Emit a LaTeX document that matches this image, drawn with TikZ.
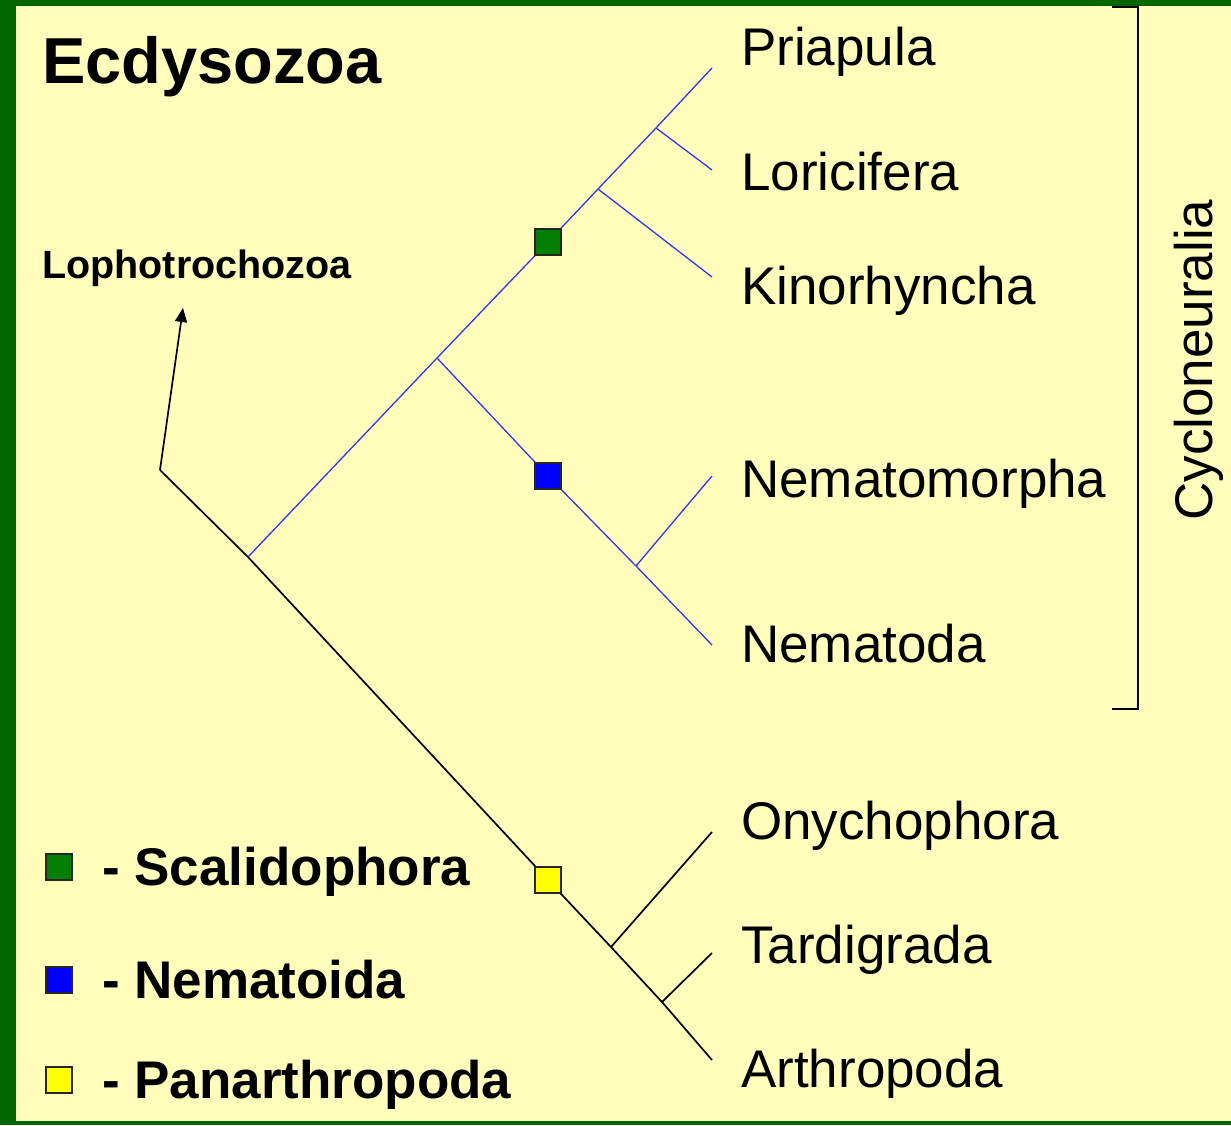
\documentclass[tikz,border=0pt]{standalone}
\usepackage{fontspec}
\setmainfont{Liberation Sans}
\usetikzlibrary{arrows.meta}
\definecolor{bg}{HTML}{FFFFBB}
\definecolor{framegreen}{HTML}{006600}
\definecolor{bl}{HTML}{3333FF}
\definecolor{sqgreen}{HTML}{008000}
\definecolor{sqblue}{HTML}{0000FF}
\definecolor{sqyellow}{HTML}{FFFF00}
\begin{document}
\begin{tikzpicture}[x=1pt,y=-1pt,
  taxon/.style={anchor=base west, inner sep=0pt, font=\fontsize{53}{60}\selectfont},
  legendtext/.style={anchor=base west, inner sep=0pt, font=\fontsize{53}{60}\selectfont\bfseries},
  sqmark/.style={draw=black!85, line width=1.5pt, minimum size=26pt, inner sep=0pt, outer sep=0pt},
  blk/.style={line width=1.7pt, black},
  blu/.style={line width=1.3pt, bl}]
\fill[framegreen] (0,0) rectangle (1231,1125);
\fill[bg] (16,6) rectangle (1231,1121);
\useasboundingbox (0,0) rectangle (1231,1125);

% titles
\node[anchor=base west, inner sep=0pt, font=\fontsize{65}{72}\selectfont\bfseries] (title) at (42,83) {Ecdysozoa};
\node[anchor=base west, inner sep=0pt, font=\fontsize{39.5}{44}\selectfont\bfseries] (loph) at (42,278) {Lophotrochozoa};

% tree coordinates
\coordinate (root) at (160,470);
\coordinate (lophtip) at (183,308);
\coordinate (n1) at (248,557);
\coordinate (nem) at (437,358);
\coordinate (scal) at (548,242);
\coordinate (kin) at (598,189);
\coordinate (lor) at (656,128);
\coordinate (pri) at (712,68);
\coordinate (lorE) at (712,170);
\coordinate (kinE) at (712,277);
\coordinate (nemsq) at (548,476);
\coordinate (nmj) at (636,566);
\coordinate (nmE) at (712,476);
\coordinate (ndE) at (712,645);
\coordinate (pan) at (548,880);
\coordinate (ony) at (611,947);
\coordinate (tar) at (662,1002);
\coordinate (onyE) at (712,832);
\coordinate (tarE) at (712,953);
\coordinate (artE) at (712,1060);

% black lines
\draw[blk, -{Triangle[length=14pt,width=12pt]}] (root) -- (lophtip);
\draw[blk] (root) -- (n1) -- (pan) -- (ony) -- (tar) -- (artE);
\draw[blk] (ony) -- (onyE);
\draw[blk] (tar) -- (tarE);

% blue lines
\draw[blu] (n1) -- (nem) -- (scal) -- (kin) -- (lor) -- (pri);
\draw[blu] (lor) -- (lorE);
\draw[blu] (kin) -- (kinE);
\draw[blu] (nem) -- (nemsq) -- (nmj) -- (ndE);
\draw[blu] (nmj) -- (nmE);

% character squares
\node[sqmark, fill=sqgreen] (sqS) at (scal) {};
\node[sqmark, fill=sqblue] (sqN) at (nemsq) {};
\node[sqmark, fill=sqyellow] (sqP) at (pan) {};

% taxa
\node[taxon] (tPri) at (741,65) {Priapula};
\node[taxon] (tLor) at (741,190) {Loricifera};
\node[taxon] (tKin) at (741,304) {Kinorhyncha};
\node[taxon] (tNmm) at (741,497) {Nematomorpha};
\node[taxon] (tNmd) at (741,662) {Nematoda};
\node[taxon] (tOny) at (741,839) {Onychophora};
\node[taxon] (tTar) at (741,963) {Tardigrada};
\node[taxon] (tArt) at (741,1087) {Arthropoda};

% bracket
\coordinate (bt) at (1112,7);
\coordinate (bb) at (1112,709);
\draw[line width=2.6pt, black] (bt) -- (1138,7) -- (1138,709) -- (bb);
\node[anchor=base, inner sep=0pt, rotate=90, font=\fontsize{53}{60}\selectfont] (cyc) at (1212,360) {Cycloneuralia};

% legend
\node[sqmark, fill=sqgreen] (lgS) at (59,867) {};
\node[sqmark, fill=sqblue] (lgN) at (59,980) {};
\node[sqmark, fill=sqyellow] (lgP) at (59,1080) {};
\node[legendtext] (lS) at (102,885) {- Scalidophora};
\node[legendtext] (lN) at (102,998) {- Nematoida};
\node[legendtext] (lP) at (102,1098) {- Panarthropoda};
\end{tikzpicture}
\end{document}
